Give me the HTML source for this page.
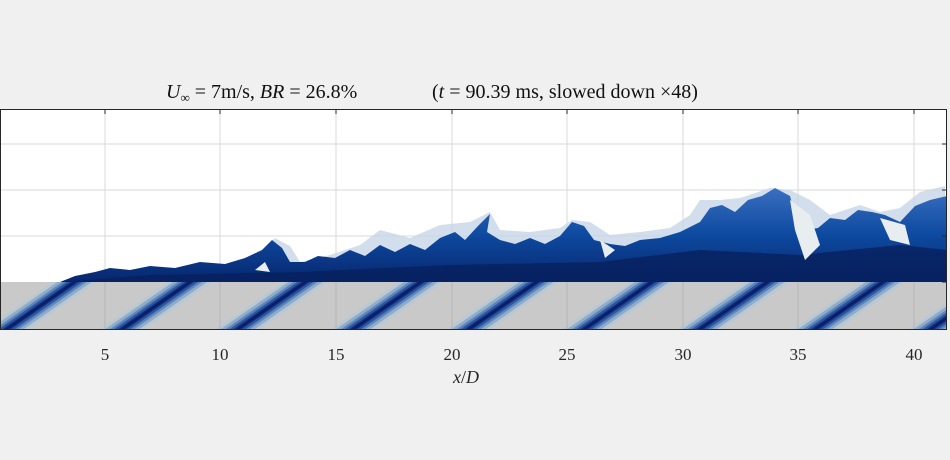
<!DOCTYPE html>
<html><head><meta charset="utf-8"><style>
html,body{margin:0;padding:0;background:#f0f0f0;width:950px;height:460px;overflow:hidden}
</style></head><body>
<svg width="950" height="460" xmlns="http://www.w3.org/2000/svg" font-family="Liberation Serif, serif">
<defs>
<g id="bd">
<polygon points="-22,330 22,330 91,282 47,282" fill="#b8c8d4"/>
<polygon points="-17,330 17,330 86,282 52,282" fill="#8fabc8"/>
<polygon points="-12,330 12,330 81,282 57,282" fill="#5a84ba"/>
<polygon points="-8,330 8,330 77,282 61,282" fill="#2c55a2"/>
<polygon points="-4,330 4,330 73,282 65,282" fill="#0f2d7c"/>
<polygon points="-1.5,330 1.5,330 70.5,282 67.5,282" fill="#0a1c60"/>
</g>
<linearGradient id="flow" x1="0" y1="0" x2="0" y2="1">
<stop offset="0" stop-color="#3a6fc0"/>
<stop offset="0.5" stop-color="#0d4aa0"/>
<stop offset="1" stop-color="#07266e"/>
</linearGradient>
<clipPath id="pc"><rect x="0" y="109" width="947" height="221"/></clipPath>
</defs>
<rect x="0" y="109" width="947" height="221" fill="#fff"/>
<g clip-path="url(#pc)">
<rect x="0" y="282" width="947" height="48" fill="#c9c9c9"/>
<use href="#bd" x="5.5"/><use href="#bd" x="121"/><use href="#bd" x="236.5"/><use href="#bd" x="352"/><use href="#bd" x="467.5"/><use href="#bd" x="583"/><use href="#bd" x="698.5"/><use href="#bd" x="814"/><use href="#bd" x="929.5"/><use href="#bd" x="-110"/>
<g stroke="#d8d8d8" stroke-width="1">
<line x1="0" y1="144" x2="947" y2="144"/><line x1="0" y1="190" x2="947" y2="190"/><line x1="0" y1="236" x2="947" y2="236"/>
<line x1="105" y1="109" x2="105" y2="282"/><line x1="220" y1="109" x2="220" y2="282"/><line x1="336" y1="109" x2="336" y2="282"/><line x1="452" y1="109" x2="452" y2="282"/><line x1="567" y1="109" x2="567" y2="282"/><line x1="683" y1="109" x2="683" y2="282"/><line x1="798" y1="109" x2="798" y2="282"/><line x1="914" y1="109" x2="914" y2="282"/>
</g>
<g stroke="#a8a8a8" stroke-width="1" opacity="0.6">
<line x1="105" y1="282" x2="105" y2="330"/><line x1="220" y1="282" x2="220" y2="330"/><line x1="336" y1="282" x2="336" y2="330"/><line x1="452" y1="282" x2="452" y2="330"/><line x1="567" y1="282" x2="567" y2="330"/><line x1="683" y1="282" x2="683" y2="330"/><line x1="798" y1="282" x2="798" y2="330"/><line x1="914" y1="282" x2="914" y2="330"/>
</g>
<path d="M250,270 L262,250 L275,238 L290,246 L300,262 L330,255 L360,245 L380,230 L410,238 L440,225 L470,222 L490,212 L500,230 L530,232 L560,228 L572,220 L590,222 L610,235 L640,232 L670,228 L690,215 L700,200 L720,200 L740,198 L770,188 L790,190 L810,200 L830,215 L860,205 L880,212 L900,208 L920,192 L945,186 L947,282 L250,282Z" fill="#c7d6e6" opacity="0.8"/>
<path d="M60,282 L75,276 L95,272 L110,268 L130,270 L150,266 L175,268 L200,262 L225,264 L245,258 L262,250 L272,240 L282,248 L290,262 L305,262 L318,256 L335,258 L350,250 L365,256 L380,245 L395,252 L410,244 L425,250 L440,238 L455,232 L465,240 L478,226 L490,214 L487,232 L500,240 L515,244 L530,238 L545,244 L560,236 L572,222 L584,226 L594,240 L610,244 L625,246 L640,240 L660,238 L680,232 L700,222 L710,208 L722,205 L735,212 L748,200 L762,196 L775,188 L790,196 L795,215 L805,230 L818,228 L830,218 L845,220 L858,210 L872,212 L885,215 L900,222 L915,206 L930,200 L947,196 L947,282Z" fill="url(#flow)"/>
<path d="M60,282 L150,275 L300,272 L450,265 L600,262 L700,250 L800,255 L900,245 L947,250 L947,282Z" fill="#08205e" opacity="0.8"/>
<path d="M790,200 L810,215 L820,245 L805,260 L795,230Z M600,240 L615,250 L605,258Z M255,270 L265,262 L270,272Z M880,218 L905,225 L910,245 L890,240Z" fill="#e8eef0"/>
</g>
<rect x="0.5" y="109.5" width="946" height="220" fill="none" stroke="#262626" stroke-width="1"/>
<g stroke="#262626" stroke-width="1">
<line x1="105" y1="109" x2="105" y2="114"/><line x1="220" y1="109" x2="220" y2="114"/><line x1="336" y1="109" x2="336" y2="114"/><line x1="452" y1="109" x2="452" y2="114"/><line x1="567" y1="109" x2="567" y2="114"/><line x1="683" y1="109" x2="683" y2="114"/><line x1="798" y1="109" x2="798" y2="114"/><line x1="914" y1="109" x2="914" y2="114"/>
<line x1="942" y1="144" x2="947" y2="144"/><line x1="942" y1="190" x2="947" y2="190"/><line x1="942" y1="236" x2="947" y2="236"/><line x1="942" y1="282" x2="947" y2="282"/>
</g>
<g font-size="17" fill="#262626" text-anchor="middle">
<text x="105" y="360">5</text><text x="220" y="360">10</text><text x="336" y="360">15</text><text x="452" y="360">20</text><text x="567" y="360">25</text><text x="683" y="360">30</text><text x="798" y="360">35</text><text x="914" y="360">40</text>
<text x="466" y="383" font-size="18"><tspan font-style="italic">x</tspan>/<tspan font-style="italic">D</tspan></text>
</g>
<text x="166" y="98" font-size="20" fill="#111"><tspan font-style="italic">U</tspan><tspan font-size="13" dy="4">∞</tspan><tspan dy="-4"> = 7m/s, </tspan><tspan font-style="italic">BR</tspan> = 26.8%</text>
<text x="432" y="98" font-size="20" fill="#111">(<tspan font-style="italic">t</tspan> = 90.39 ms,  slowed down ×48)</text>
</svg>
</body></html>
